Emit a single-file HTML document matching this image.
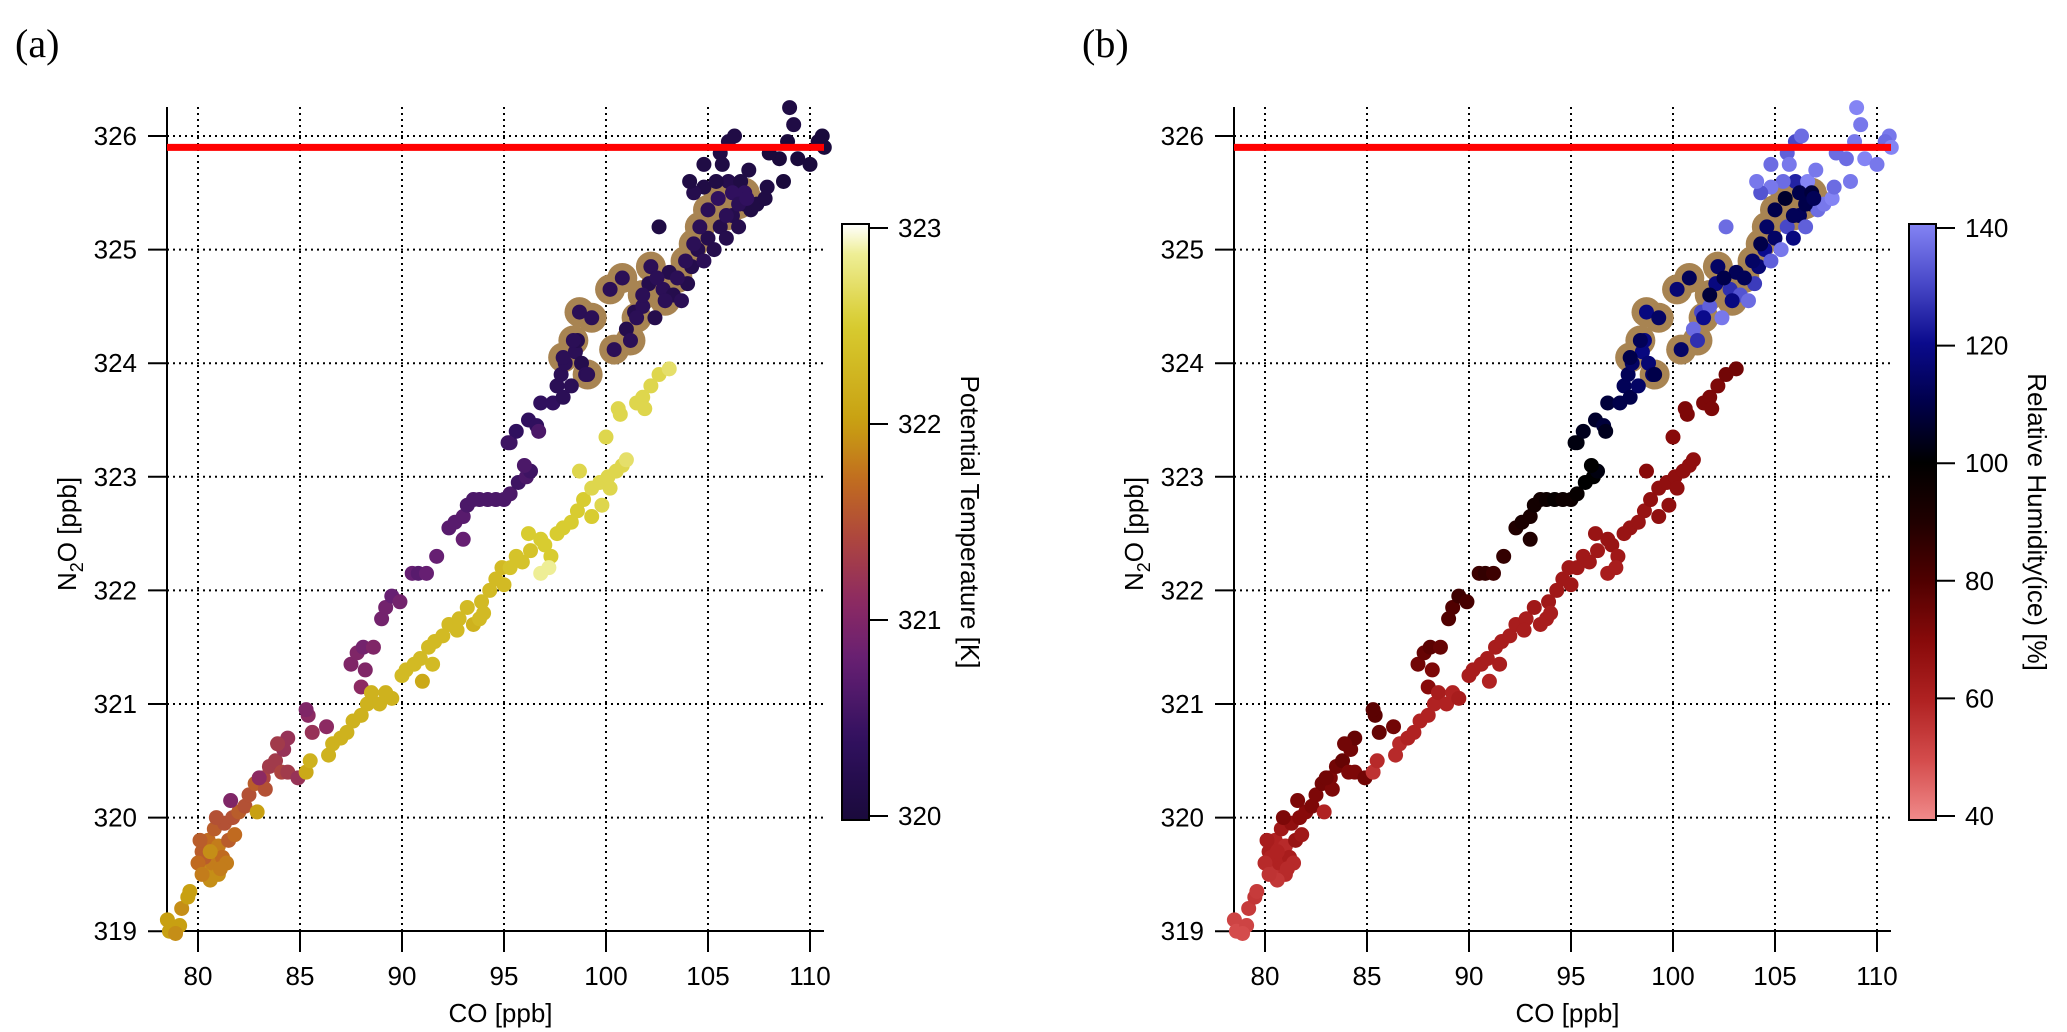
<!DOCTYPE html>
<html><head><meta charset="utf-8"><style>
html,body{margin:0;padding:0;background:#fff;}
svg{display:block;font-family:"Liberation Sans",Arial,sans-serif;}
</style></head><body>
<svg id="fig" width="2067" height="1032" viewBox="0 0 2067 1032" xmlns="http://www.w3.org/2000/svg"></svg>
<script>
// ---- data (shared by both panels) ----
const coLow=[80.2,80.5,80.8,81.0,80.4,80.7,81.2,81.5,81.0,80.3,81.3,81.7,82.0,82.3,81.8,80.9,80.1,80.6,81.4,82.5,82.8,83.2,83.5,83.8,84.2,84.4,83.9,84.1,82.9,83.3,81.6,83.0,84.4,84.9,85.4,85.3,85.6,86.3,80.0,80.2,80.6,81.1];
const n2oLow=[319.7,319.8,319.9,319.75,319.55,319.6,319.65,319.8,319.5,319.65,319.95,320.0,320.05,320.1,319.85,320.0,319.8,319.45,319.6,320.2,320.3,320.35,320.45,320.5,320.6,320.7,320.65,320.4,320.05,320.25,320.15,320.35,320.4,320.35,320.9,320.95,320.75,320.8,319.6,319.5,319.7,319.55];
const thetaLow=[321.6,321.7,321.6,321.8,321.9,321.8,321.7,321.6,321.9,321.6,321.5,321.5,321.6,321.5,321.7,321.5,321.6,321.9,321.8,321.5,321.6,321.4,321.3,321.3,321.2,321.2,321.3,321.4,322.0,321.5,321.0,321.1,321.3,321.2,321.1,321.0,321.2,321.1,321.7,321.8,321.9,321.8];
const rhLow=[62,60,64,58,56,60,62,66,58,60,68,70,70,72,64,72,62,55,58,72,74,72,74,76,74,76,74,72,60,72,72,74,72,74,78,78,76,74,58,56,60,58];

const coMin=[78.5,78.6,79.1,79.2,79.5,79.6,78.9];
const n2oMin=[319.1,319.0,319.05,319.2,319.3,319.35,318.98];
const thetaMin=[322.0,322.0,322.0,321.9,322.0,322.0,321.9];
const rhMin=[52,50,52,54,55,54,50];

const coUp=[87.5,87.8,88.1,88.2,88.6,88.0,89.0,89.2,89.5,89.9,90.5,90.8,91.2,91.7,92.3,92.6,93.0,93.2,93.0,93.5,93.8,94.2,94.6,95.0,95.3,95.7,96.1,96.3,96.0,95.3,95.6,95.2,96.2,96.6,96.8,96.7,97.4,97.6,97.8,98.0,97.9,98.3,98.5,98.8,99.0,98.6];
const n2oUp=[321.35,321.45,321.5,321.3,321.5,321.15,321.75,321.85,321.95,321.9,322.15,322.15,322.15,322.3,322.55,322.6,322.65,322.75,322.45,322.8,322.8,322.8,322.8,322.8,322.85,322.95,323.0,323.05,323.1,323.3,323.4,323.3,323.5,323.45,323.65,323.4,323.65,323.8,323.9,324.0,323.7,323.8,324.1,324.0,323.9,324.2];
const thetaUp=[321.0,321.0,320.9,321.0,321.0,321.1,320.9,320.9,320.8,320.9,320.8,320.7,320.8,320.8,320.7,320.7,320.7,320.6,320.8,320.6,320.6,320.6,320.6,320.6,320.6,320.5,320.6,320.5,320.6,320.5,320.4,320.5,320.4,320.4,320.4,320.6,320.4,320.3,320.3,320.3,320.3,320.3,320.3,320.2,320.3,320.2];
const rhUp=[74,76,78,72,76,70,80,80,84,82,84,86,84,86,90,92,92,94,90,94,96,98,96,96,98,100,100,102,100,102,104,102,106,108,108,104,110,112,112,114,110,114,118,116,114,118];

const coTop=[101.0,101.4,101.8,102.1,102.4,102.8,103.1,103.3,103.7,104.0,104.2,104.5,104.8,105.0,105.3,105.6,105.9,106.2,106.5,106.8,107.1,107.4,107.8,106.0,105.4,104.8,104.3,102.6,104.1,104.8,105.6,106.0,106.3,105.7,106.6,107.0,108.5,108.9,109.4,110.0,108.0,109.0,109.2,110.6,110.4,110.7,108.7,107.9,97.9,98.4,98.7,99.3,99.1,100.2,100.8,100.4,101.5,101.8,102.2,102.5,103.5,103.9,104.3,104.6,105.0,105.5,106.2,106.8,101.2,102.9,105.9,106.5,106.9];
const n2oTop=[324.3,324.45,324.5,324.7,324.4,324.65,324.8,324.6,324.55,324.7,324.85,325.0,324.9,325.1,325.0,325.2,325.1,325.3,325.2,325.4,325.35,325.4,325.45,325.6,325.6,325.55,325.5,325.2,325.6,325.75,325.85,325.95,326.0,325.75,325.6,325.7,325.8,325.95,325.8,325.75,325.85,326.25,326.1,326.0,325.95,325.9,325.6,325.55,324.05,324.2,324.45,324.4,323.9,324.65,324.75,324.12,324.4,324.6,324.85,324.75,324.75,324.9,325.05,325.2,325.35,325.45,325.5,325.5,324.2,324.55,325.3,325.4,325.45];
const thetaTop=[320.2,320.2,320.3,320.2,320.2,320.3,320.2,320.2,320.3,320.2,320.2,320.2,320.3,320.2,320.2,320.2,320.2,320.2,320.2,320.1,320.1,320.1,320.1,320.2,320.1,320.1,320.2,320.1,320.1,320.1,320.1,320.1,320.1,320.1,320.1,320.1,320.0,320.0,320.0,320.0,320.0,320.1,320.1,320.0,320.0,320.0,320.0,320.1,320.3,320.3,320.3,320.3,320.3,320.3,320.3,320.3,320.3,320.3,320.3,320.3,320.3,320.3,320.3,320.3,320.3,320.4,320.4,320.4,320.3,320.3,320.3,320.3,320.4];
const rhTop=[136,130,134,118,138,126,112,132,136,128,116,120,134,114,138,130,118,112,134,110,136,138,140,124,136,138,132,136,138,136,134,130,136,138,140,138,136,138,140,138,136,140,138,138,136,140,138,136,110,112,118,114,110,116,112,114,120,108,114,110,112,114,110,114,110,106,110,108,126,118,112,110,112];

const coYel=[85.3,85.5,86.4,86.6,87.0,87.3,87.6,88.0,88.3,88.5,88.9,89.2,89.5,90.0,90.2,90.6,90.9,91.3,91.6,91.5,91.0,92.0,92.3,92.8,93.2,93.5,93.8,93.9,94.3,94.6,94.9,95.3,95.6,95.9,96.3,96.8,97.0,97.3,97.6,97.9,98.3,98.6,98.9,99.3,99.7,100.1,100.5,100.8,101.0,96.8,97.2,96.2,98.7,100.0,100.7,100.6,101.5,101.8,102.2,102.6,103.1,101.9,99.3,99.8,100.2,92.7,94.0,95.0];
const n2oYel=[320.4,320.5,320.55,320.65,320.7,320.75,320.85,320.9,321.0,321.1,321.0,321.1,321.05,321.25,321.3,321.35,321.4,321.5,321.55,321.35,321.2,321.6,321.7,321.75,321.85,321.7,321.75,321.9,322.0,322.1,322.2,322.2,322.3,322.25,322.35,322.45,322.4,322.3,322.5,322.55,322.6,322.7,322.8,322.9,322.95,323.0,323.05,323.1,323.15,322.15,322.2,322.5,323.05,323.35,323.55,323.6,323.65,323.7,323.8,323.9,323.95,323.6,322.65,322.75,322.9,321.65,321.8,322.05];
const thetaYel=[322.1,322.2,322.2,322.2,322.2,322.2,322.2,322.2,322.2,322.2,322.2,322.2,322.2,322.3,322.3,322.3,322.3,322.3,322.3,322.3,322.1,322.3,322.3,322.3,322.3,322.2,322.3,322.3,322.3,322.3,322.3,322.4,322.4,322.4,322.4,322.5,322.5,322.5,322.5,322.5,322.5,322.5,322.5,322.6,322.6,322.6,322.6,322.6,322.7,322.85,322.85,322.5,322.6,322.6,322.6,322.6,322.6,322.6,322.6,322.6,322.7,322.6,322.5,322.6,322.6,322.3,322.3,322.3];
const rhYel=[56,58,58,58,60,60,60,60,60,62,60,60,62,62,62,62,62,62,62,62,60,62,62,62,64,62,62,64,64,64,64,64,64,64,64,66,66,64,66,66,66,66,68,68,68,68,68,68,68,62,62,66,70,70,72,72,72,72,72,74,74,72,68,68,68,62,62,64];

const ringCO=[97.9,98.4,98.7,99.3,99.1,100.2,100.8,100.4,101.5,101.8,102.2,102.5,103.5,103.9,104.3,104.6,105.0,105.5,106.2,106.8,101.2,102.9,105.9,106.5,106.9];
const ringN2O=[324.05,324.2,324.45,324.4,323.9,324.65,324.75,324.12,324.4,324.6,324.85,324.75,324.75,324.9,325.05,325.2,325.35,325.45,325.5,325.5,324.2,324.55,325.3,325.4,325.45];

const xTicks=[80,85,90,95,100,105,110];
const yTicks=[319,320,321,322,323,324,325,326];
const refLine=325.9;
const thetaTicks=[320,321,322,323];
const rhTicks=[40,60,80,100,120,140];

const co=[].concat(coLow,coMin,coUp,coTop,coYel);
const n2o=[].concat(n2oLow,n2oMin,n2oUp,n2oTop,n2oYel);
const theta=[].concat(thetaLow,thetaMin,thetaUp,thetaTop,thetaYel);
const rh=[].concat(rhLow,rhMin,rhUp,rhTop,rhYel);

// ---- helpers ----
const NS="http://www.w3.org/2000/svg";
const svg=document.getElementById('fig');
function mk(tag,attrs,parent){const e=document.createElementNS(NS,tag);for(const k in attrs)e.setAttribute(k,attrs[k]);(parent||svg).appendChild(e);return e;}
function hex(h){return [parseInt(h.slice(1,3),16),parseInt(h.slice(3,5),16),parseInt(h.slice(5,7),16)];}
function cmap(stops,v){
  if(v<=stops[0][0])return stops[0][1];
  for(let i=1;i<stops.length;i++){if(v<=stops[i][0]){const a=stops[i-1],b=stops[i];const t=(v-a[0])/(b[0]-a[0]);const c1=hex(a[1]),c2=hex(b[1]);return 'rgb('+c1.map((c,j)=>Math.round(c+(c2[j]-c)*t)).join(',')+')';}}
  return stops[stops.length-1][1];
}
const thetaStops=[[320,'#1a0a3c'],[320.4,'#30105e'],[320.8,'#661f72'],[321.1,'#8c2a62'],[321.4,'#ac4440'],[321.7,'#c06a20'],[322.0,'#c8a012'],[322.5,'#d8cc30'],[322.85,'#eeee96'],[323,'#ffffff']];
const rhStops=[[40,'#f08a8a'],[50,'#d44c4c'],[60,'#b02222'],[70,'#880a0a'],[80,'#500000'],[90,'#200000'],[100,'#000000'],[110,'#00004a'],[120,'#0a0a8c'],[130,'#4848c8'],[140,'#8484f4']];

const X0=198, XS=20.4, Y0=136, YS=113.6;
const PL=167, PR=824, PT=107, PB=931;

function panel(off,label,cVals,stops,cbTicks,cbMin,cbMax,cbTitle,pname){
  const g=mk('g',{transform:'translate('+off+',0)'});
  
  
  const xs=v=>X0+(v-80)*XS, ys=v=>Y0+(326-v)*YS;
  const lab=mk('text',{x:15,y:57,'font-family':'"Liberation Serif",serif','font-size':40},g);lab.textContent=label;
  
  
  const grid=mk('g',{stroke:'#000','stroke-width':2,'stroke-dasharray':'2,4'},g);
  
  
  xTicks.forEach(t=>mk('line',{x1:xs(t),x2:xs(t),y1:PT,y2:PB},grid));
  yTicks.forEach(t=>{if(t>319)mk('line',{x1:PL,x2:PR,y1:ys(t),y2:ys(t)},grid);});
  const ax=mk('g',{stroke:'#000','stroke-width':2},g);
  
  
  mk('line',{x1:PL,x2:PL,y1:PT,y2:PB},ax);
  mk('line',{x1:PL,x2:PR,y1:PB,y2:PB},ax);
  xTicks.forEach(t=>mk('line',{x1:xs(t),x2:xs(t),y1:PB,y2:PB+21},ax));
  yTicks.forEach(t=>mk('line',{x1:PL-19,x2:PL,y1:ys(t),y2:ys(t)},ax));
  xTicks.forEach(t=>{const e=mk('text',{x:xs(t),y:PB+54,'text-anchor':'middle','font-size':26},g);e.textContent=t;
    
    });
  yTicks.forEach(t=>{const e=mk('text',{x:PL-30,y:ys(t)+9,'text-anchor':'end','font-size':26},g);e.textContent=t;
    
    });
  const xt=mk('text',{x:(PL+PR)/2+5,y:1022,'text-anchor':'middle','font-size':26},g);xt.textContent='CO [ppb]';
  
  
  const yt=mk('text',{x:0,y:0,'text-anchor':'middle','font-size':26,transform:'translate(76,534) rotate(-90)'},g);
  yt.innerHTML='N<tspan font-size="18" dy="7">2</tspan><tspan dy="-7">O [ppb]</tspan>';
  
  
  const rg=mk('g',{},g);
  
  
  ringCO.forEach((c,i)=>{const r=mk('circle',{cx:xs(c),cy:ys(ringN2O[i]),r:15,fill:'#a88452'},rg);
    
    });
  const pg=mk('g',{},g);
  
  
  co.forEach((c,i)=>{const p=mk('circle',{cx:xs(c),cy:ys(n2o[i]),r:7.5,fill:cmap(stops,cVals[i])},pg);
    
    });
  const rl=mk('line',{x1:PL,x2:PR,y1:ys(refLine),y2:ys(refLine),stroke:'#ff0000','stroke-width':7},g);
  
  
  const CB0=224,CB1=820,CX=842,CW=27;
  const gid='grad'+off;
  const defs=mk('defs',{},g);
  const lg=mk('linearGradient',{id:gid,x1:0,y1:1,x2:0,y2:0},defs);
  for(let k=0;k<=40;k++){const v=cbMin+(cbMax-cbMin)*k/40;mk('stop',{offset:k/40,'stop-color':cmap(stops,v)},lg);}
  const cb=mk('rect',{x:CX,y:CB0,width:CW,height:CB1-CB0,fill:'url(#'+gid+')',stroke:'#000','stroke-width':2},g);
  
  
  const cy=v=>228+(cbMax-v)/(cbMax-cbMin)*588;
  cbTicks.forEach(t=>{mk('line',{x1:CX+CW,x2:CX+CW+19,y1:cy(t),y2:cy(t),stroke:'#000','stroke-width':2},g);
    const e=mk('text',{x:898,y:cy(t)+9,'font-size':26},g);e.textContent=t;
    
    });
  const ct=mk('text',{x:0,y:0,'text-anchor':'middle','font-size':26,transform:'translate(961,522) rotate(90)'},g);ct.textContent=cbTitle;
  
  
}
panel(0,'(a)',theta,thetaStops,thetaTicks,320,323,'Potential Temperature [K]','panel-a');
panel(1067,'(b)',rh,rhStops,rhTicks,40,140,'Relative Humidity(ice) [%]','panel-b');
</script>
</body></html>
